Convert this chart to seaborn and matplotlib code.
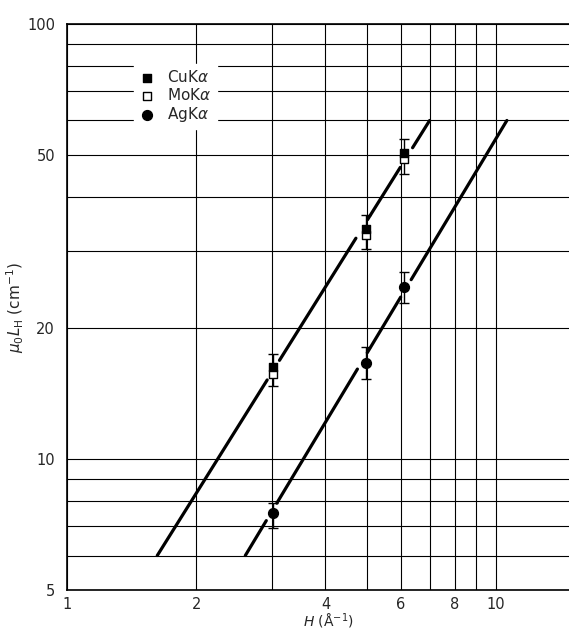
import numpy as np
import pandas as pd
import matplotlib
matplotlib.use("Agg")
import matplotlib.pyplot as plt
from matplotlib.ticker import FixedLocator, FixedFormatter, NullFormatter
import seaborn as sns

# measured points (H in 1/Angstrom, mu0*L_H in 1/cm)
h_vals = [3.02, 4.97, 6.09]
cu_mu = [16.3, 33.8, 50.6]
mo_mu = [15.7, 32.8, 48.9]
ag_mu = [7.5, 16.6, 24.9]

# error bar ends, one bar shared by the Cu / Mo pair
cumo_lo = [14.7, 30.4, 45.1]
cumo_hi = [17.4, 36.4, 54.3]
ag_lo = [6.95, 15.3, 22.8]
ag_hi = [7.94, 18.1, 26.9]

# end points of the two straight lines through the data
fit1_h = [1.62, 7.0]
fit1_mu = [6.0, 60.0]
fit2_h = [2.60, 10.6]
fit2_mu = [6.0, 60.0]

x_major = [1, 2, 4, 6, 8, 10]
x_minor = [3, 5, 7, 9]
y_major = [5, 10, 20, 50, 100]
y_minor = [6, 7, 8, 9, 30, 40, 60, 70, 80, 90]

sns.set_style("white")
plt.rcParams['font.family'] = ['DejaVu Sans']
plt.rcParams['mathtext.fontset'] = 'dejavusans'

fig = plt.figure(figsize=(5.69, 6.32), dpi=100)
ax = fig.add_axes([0.1186, 0.0665, 0.8814, 0.8956])
ax.set_xscale('log')
ax.set_yscale('log')
ax.set_xlim(1, 14.8)
ax.set_ylim(5, 100)

# ticks and the graph-paper grid
ax.xaxis.set_major_locator(FixedLocator(x_major))
ax.xaxis.set_major_formatter(FixedFormatter([str(v) for v in x_major]))
ax.xaxis.set_minor_locator(FixedLocator(x_minor))
ax.xaxis.set_minor_formatter(NullFormatter())
ax.yaxis.set_major_locator(FixedLocator(y_major))
ax.yaxis.set_major_formatter(FixedFormatter([str(v) for v in y_major]))
ax.yaxis.set_minor_locator(FixedLocator(y_minor))
ax.yaxis.set_minor_formatter(NullFormatter())
ax.grid(True, which='both', color='black', lw=0.8)
ax.tick_params(which='both', length=0, labelsize=10.5)
ax.tick_params(axis='x', pad=5)
ax.tick_params(axis='y', pad=9)
for s in ['left', 'bottom', 'top']:
    ax.spines[s].set_color('black')
    ax.spines[s].set_linewidth(1.2)
ax.spines['right'].set_visible(False)


def gapped_line(fh, fm, centers, gap_px=11):
    # sample the straight line in log space and cut it near the data points
    t = np.linspace(0, 1, 400)
    lh = np.log10(fh[0]) + t * (np.log10(fh[1]) - np.log10(fh[0]))
    lm = np.log10(fm[0]) + t * (np.log10(fm[1]) - np.log10(fm[0]))
    xs, ys = 10 ** lh, 10 ** lm
    disp = ax.transData.transform(np.column_stack([xs, ys]))
    cen = ax.transData.transform(np.array(centers))
    keep = np.ones(len(xs), bool)
    for c in cen:
        keep &= np.hypot(disp[:, 0] - c[0], disp[:, 1] - c[1]) > gap_px
    seg = np.cumsum(np.r_[0, np.diff(keep.astype(int)) != 0])
    return pd.DataFrame({'h': xs[keep], 'mu': ys[keep], 'seg': seg[keep]})


line1 = gapped_line(fit1_h, fit1_mu,
                    [(h, (c + m) / 2) for h, c, m in zip(h_vals, cu_mu, mo_mu)])
line2 = gapped_line(fit2_h, fit2_mu, list(zip(h_vals, ag_mu)), gap_px=10)
sns.lineplot(data=line1, x='h', y='mu', units='seg', estimator=None,
             color='black', lw=2.3, ax=ax)
sns.lineplot(data=line2, x='h', y='mu', units='seg', estimator=None,
             color='black', lw=2.3, ax=ax)

# error bars
ax.errorbar(h_vals, cu_mu, yerr=[np.array(cu_mu) - cumo_lo, np.array(cumo_hi) - cu_mu],
            fmt='none', ecolor='black', elinewidth=1, capsize=3.5, capthick=1, zorder=4)
ax.errorbar(h_vals, ag_mu, yerr=[np.array(ag_mu) - ag_lo, np.array(ag_hi) - ag_mu],
            fmt='none', ecolor='black', elinewidth=1, capsize=3.5, capthick=1, zorder=4)

# data points
sns.scatterplot(x=h_vals, y=mo_mu, marker='s', color='white', edgecolor='black',
                linewidth=1, s=30, label='MoK$\\alpha$', ax=ax, zorder=5)
sns.scatterplot(x=h_vals, y=cu_mu, marker='s', color='black', edgecolor='black',
                linewidth=1, s=30, label='CuK$\\alpha$', ax=ax, zorder=6)
sns.scatterplot(x=h_vals, y=ag_mu, marker='o', color='black', edgecolor='black',
                linewidth=1, s=50, label='AgK$\\alpha$', ax=ax, zorder=6)

handles, labels = ax.get_legend_handles_labels()
order = [labels.index(l) for l in ['CuK$\\alpha$', 'MoK$\\alpha$', 'AgK$\\alpha$']]
leg = ax.legend([handles[i] for i in order], [labels[i] for i in order],
                loc='upper left', bbox_to_anchor=(0.133, 0.93), borderaxespad=0,
                frameon=True, framealpha=1, facecolor='white', edgecolor='white',
                fancybox=False, fontsize=11, handlelength=1.0, handletextpad=0.8,
                borderpad=0.35, labelspacing=0.12, scatterpoints=1)
leg.set_zorder(10)

ax.set_xlabel('$H$ (Å$^{-1}$)', fontsize=10)
ax.xaxis.set_label_coords(0.52, -0.0385)
ax.set_ylabel('$\\mu_0L_{\\rm H}$ (cm$^{-1}$)', fontsize=11)
ax.yaxis.set_label_coords(-0.083, 0.5)

fig.savefig('out.png', dpi=100)
